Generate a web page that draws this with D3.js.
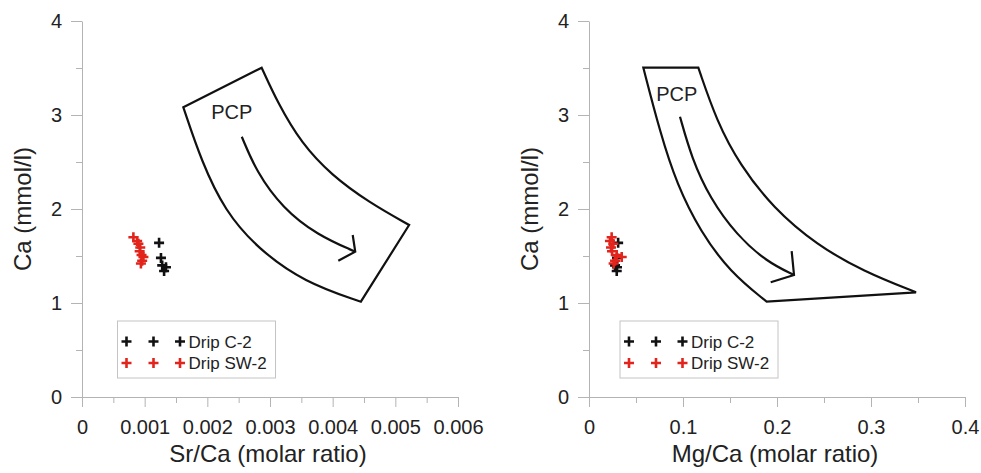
<!DOCTYPE html>
<html>
<head lang="en">
    <meta charset="UTF-8">
    <title>PCP Sr/Ca Mg/Ca</title>
    <style>
        body { margin: 0; background: #fff; }
        text { font-family: "Liberation Sans", Arial, sans-serif; fill: #222; }
        .axis path, .axis line { stroke: #b4b4b4; }
    </style>
</head>
<body>
<svg width="981" height="473"></svg>
<script src="https://cdnjs.cloudflare.com/ajax/libs/d3/7.8.5/d3.min.js"></script>
<script>
    // drip water samples (Ca in mmol/l, ratios molar)
    var caC2  = [1.64, 1.48, 1.40, 1.38, 1.34];
    var srC2  = [0.00123, 0.00126, 0.00128, 0.00134, 0.00131];
    var mgC2  = [0.031, 0.0298, 0.0277, 0.0298, 0.0295];

    var caSW2 = [1.70, 1.66, 1.63, 1.59, 1.55, 1.51, 1.49, 1.45, 1.42];
    var srSW2 = [0.00082, 0.00088, 0.0009, 0.00093, 0.00092, 0.00095, 0.00098, 0.00096, 0.00094];
    var mgSW2 = [0.0241, 0.0223, 0.0259, 0.0234, 0.0245, 0.0295, 0.0348, 0.0277, 0.0262];

    // PCP envelope, Sr/Ca panel (sides in drawing order)
    var srTopEdge   = [[0.001617, 3.082], [0.002867, 3.503]];
    var srUpperSide = [[0.002867, 3.503], [0.00313, 3.12], [0.00350, 2.70], [0.00398, 2.36], [0.00458, 2.07], [0.00522, 1.830]];
    var srEndEdge   = [[0.00522, 1.830], [0.00445, 1.014]];
    var srLowerSide = [[0.00445, 1.014], [0.00355, 1.22], [0.00280, 1.58], [0.00228, 1.98], [0.00191, 2.50], [0.001617, 3.082]];
    var srArrow     = [[0.00255, 2.769], [0.00278, 2.40], [0.00320, 2.01], [0.00375, 1.725], [0.00436, 1.546]];
    var srArrowHead = [[0.00432, 1.723], [0.00436, 1.546], [0.00409, 1.45]];
    var srLabelPos  = [0.00239, 3.035];

    // PCP envelope, Mg/Ca panel
    var mgTopEdge   = [[0.0578, 3.503], [0.1163, 3.503]];
    var mgUpperSide = [[0.1163, 3.503], [0.1360, 2.93], [0.1605, 2.47], [0.1960, 2.01], [0.2420, 1.62], [0.2920, 1.335], [0.3479, 1.114]];
    var mgEndEdge   = [[0.3479, 1.114], [0.189, 1.014]];
    var mgLowerSide = [[0.189, 1.014], [0.150, 1.33], [0.1185, 1.76], [0.0935, 2.26], [0.0755, 2.82], [0.0578, 3.503]];
    var mgArrow     = [[0.0968, 2.982], [0.1093, 2.539], [0.1287, 2.114], [0.1571, 1.723], [0.189, 1.439], [0.2181, 1.298]];
    var mgArrowHead = [[0.2156, 1.553], [0.2181, 1.298], [0.1933, 1.22]];
    var mgLabelPos  = [0.0933, 3.22];

    var caTicks      = [0, 1, 2, 3, 4];
    var caTickLabels = ["0", "1", "2", "3", "4"];
    var caMinorTicks = [0.5, 1.5, 2.5, 3.5];
    var srTicks      = [0, 0.001, 0.002, 0.003, 0.004, 0.005, 0.006];
    var srTickLabels = ["0", "0.001", "0.002", "0.003", "0.004", "0.005", "0.006"];
    var srMinorTicks = [0.0005, 0.0015, 0.0025, 0.0035, 0.0045, 0.0055];
    var mgTicks      = [0, 0.1, 0.2, 0.3, 0.4];
    var mgTickLabels = ["0", "0.1", "0.2", "0.3", "0.4"];
    var mgMinorTicks = [0.05, 0.15, 0.25, 0.35];

    var seriesNames  = ["Drip C-2", "Drip SW-2"];
    var seriesColors = ["#111111", "#e2251c"];

    var svg = d3.select("svg");
    var crossPath = "M-5,0H5M0,-5V5";

    function panel(opt) {
        var g = svg.append("g");
        var xScale = d3.scaleLinear().domain(opt.xDomain).range([opt.left, opt.left + 376]);
        var yScale = d3.scaleLinear().domain([0, 4]).range([397, 21]);

        // axes
        g.append("g").attr("class", "axis")
            .attr("transform", "translate(0,397)")
            .call(d3.axisBottom(xScale).tickValues(opt.minor).tickSize(6).tickFormat(""))
            .call(function (a) { a.select(".domain").remove(); });
        var xa = g.append("g").attr("class", "axis")
            .attr("transform", "translate(0,397)")
            .call(d3.axisBottom(xScale).tickValues(opt.ticks).tickSize(10).tickSizeOuter(0)
                .tickFormat(function (d, i) { return opt.tickLabels[i]; }));
        xa.attr("font-size", 20).attr("font-family", null);
        xa.selectAll("text").attr("y", 23).attr("fill", "#222");

        g.append("g").attr("class", "axis")
            .attr("transform", "translate(" + opt.left + ",0)")
            .call(d3.axisLeft(yScale).tickValues(caMinorTicks).tickSize(6).tickFormat(""))
            .call(function (a) { a.select(".domain").remove(); });
        var ya = g.append("g").attr("class", "axis")
            .attr("transform", "translate(" + opt.left + ",0)")
            .call(d3.axisLeft(yScale).tickValues(caTicks).tickSize(11).tickSizeOuter(0)
                .tickFormat(function (d, i) { return caTickLabels[i]; }));
        ya.attr("font-size", 20).attr("font-family", null);
        ya.selectAll("text").attr("x", -20).attr("fill", "#222");

        // titles
        g.append("text")
            .attr("x", opt.left + 186).attr("y", 462)
            .attr("text-anchor", "middle").style("font-size", "24px")
            .text(opt.xTitle);
        g.append("text")
            .attr("transform", "translate(" + (opt.left - 51) + ",209) rotate(-90)")
            .attr("text-anchor", "middle").style("font-size", "24px")
            .text("Ca (mmol/l)");

        // PCP envelope
        var curved = d3.line()
            .x(function (d) { return xScale(d[0]); })
            .y(function (d) { return yScale(d[1]); })
            .curve(d3.curveBasis);
        var straight = d3.line()
            .x(function (d) { return xScale(d[0]); })
            .y(function (d) { return yScale(d[1]); });
        var d = straight(opt.env[0]) +
            curved(opt.env[1]).replace(/^M/, "L") +
            straight(opt.env[2]).replace(/^M/, "L") +
            curved(opt.env[3]).replace(/^M/, "L") + "Z";
        g.append("path").attr("d", d)
            .attr("fill", "none").attr("stroke", "#111").attr("stroke-width", 2.2)
            .attr("stroke-linejoin", "miter");
        g.append("path").attr("d", curved(opt.arrow))
            .attr("fill", "none").attr("stroke", "#111").attr("stroke-width", 2.2);
        g.append("path").attr("d", straight(opt.arrowHead))
            .attr("fill", "none").attr("stroke", "#111").attr("stroke-width", 2.2)
            .attr("stroke-linejoin", "miter");
        g.append("text")
            .attr("x", xScale(opt.labelPos[0])).attr("y", yScale(opt.labelPos[1]) + 7)
            .attr("text-anchor", "middle").style("font-size", "20px")
            .text("PCP");

        // samples
        var sets = [[opt.xC2, caC2], [opt.xSW2, caSW2]];
        sets.forEach(function (s, k) {
            g.selectAll(null).data(s[0]).enter().append("path")
                .attr("d", crossPath)
                .attr("transform", function (v, i) {
                    return "translate(" + xScale(v) + "," + yScale(s[1][i]) + ")";
                })
                .attr("stroke", seriesColors[k]).attr("stroke-width", 2.6).attr("fill", "none");
        });

        // legend
        var lx = opt.left + opt.legendDx;
        g.append("rect").attr("x", lx).attr("y", 321).attr("width", 158).attr("height", 57)
            .attr("fill", "#fff").attr("stroke", "#c4c4c4").attr("stroke-width", 1);
        seriesNames.forEach(function (name, k) {
            var cy = 341.5 + k * 21.5;
            [9, 36, 62.5].forEach(function (dx) {
                g.append("path").attr("d", crossPath)
                    .attr("transform", "translate(" + (lx + dx) + "," + cy + ")")
                    .attr("stroke", seriesColors[k]).attr("stroke-width", 2.6).attr("fill", "none");
            });
            g.append("text").attr("x", lx + 71).attr("y", cy + 6)
                .style("font-size", "17px").text(name);
        });
    }

    panel({
        left: 82, xDomain: [0, 0.006],
        ticks: srTicks, tickLabels: srTickLabels, minor: srMinorTicks,
        xTitle: "Sr/Ca (molar ratio)",
        env: [srTopEdge, srUpperSide, srEndEdge, srLowerSide],
        arrow: srArrow, arrowHead: srArrowHead, labelPos: srLabelPos,
        xC2: srC2, xSW2: srSW2, legendDx: 35.5
    });
    panel({
        left: 589, xDomain: [0, 0.4],
        ticks: mgTicks, tickLabels: mgTickLabels, minor: mgMinorTicks,
        xTitle: "Mg/Ca (molar ratio)",
        env: [mgTopEdge, mgUpperSide, mgEndEdge, mgLowerSide],
        arrow: mgArrow, arrowHead: mgArrowHead, labelPos: mgLabelPos,
        xC2: mgC2, xSW2: mgSW2, legendDx: 31
    });
</script>
</body>
</html>
